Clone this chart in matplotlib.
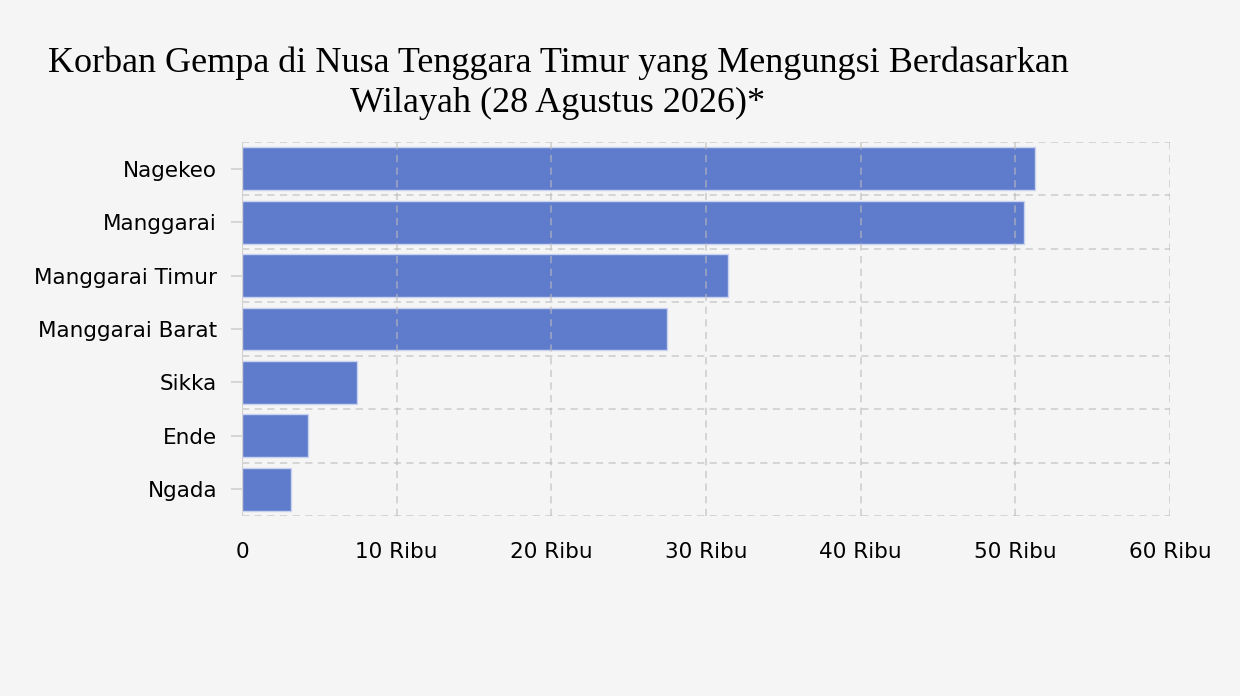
import matplotlib.pyplot as plt
import numpy as np

wilayah = ['Nagekeo', 'Manggarai', 'Manggarai Timur', 'Manggarai Barat', 'Sikka', 'Ende', 'Ngada']
pengungsi = [51300, 50550, 31400, 27500, 7450, 4250, 3200]
xticks = [0, 10000, 20000, 30000, 40000, 50000, 60000]
xlabels = ['0', '10 Ribu', '20 Ribu', '30 Ribu', '40 Ribu', '50 Ribu', '60 Ribu']

bg = '#f5f5f5'
fig = plt.figure(figsize=(12.4, 6.96), dpi=100, facecolor=bg)
ax = fig.add_axes([242/1240, 1 - 516/696, (1170-242)/1240, (516-142)/696])
ax.set_facecolor(bg)

y = np.arange(len(wilayah))
ax.barh(y, pengungsi, height=0.8, color='#5f7bcb', edgecolor='#c9d2ef', linewidth=1, zorder=2)
ax.set_ylim(len(wilayah) - 0.5, -0.5)
ax.set_xlim(0, 60000)

# grid on top of bars, horizontal lines between categories
for xv in xticks:
    ax.axvline(xv, color='#bbbbbb', lw=1.3, ls=(0, (4, 3)), alpha=0.6, zorder=3)
for b in np.arange(-0.5, len(wilayah), 1):
    ax.axhline(b, color='#bbbbbb', lw=1.3, ls=(0, (4, 3)), alpha=0.6, zorder=3)

for s in ax.spines.values():
    s.set_visible(False)
ax.axvline(0, color='#d0d0d0', lw=1.5, zorder=4)

ax.set_yticks(y)
ax.set_yticklabels(wilayah, fontsize=15.5, family='DejaVu Sans')
ax.tick_params(axis='y', length=8, color='#d0d0d0', width=1.2, pad=10)
ax.set_xticks(xticks)
ax.set_xticklabels(xlabels, fontsize=15.5, family='DejaVu Sans')
ax.tick_params(axis='x', length=0, pad=19)

fig.text(558/1240, 1 - 83/696, 'Korban Gempa di Nusa Tenggara Timur yang Mengungsi Berdasarkan\nWilayah (28 Agustus 2026)*',
         ha='center', va='center', fontsize=26, family='Liberation Serif', linespacing=1.28)

fig.savefig('out.png', dpi=100, facecolor=bg)
